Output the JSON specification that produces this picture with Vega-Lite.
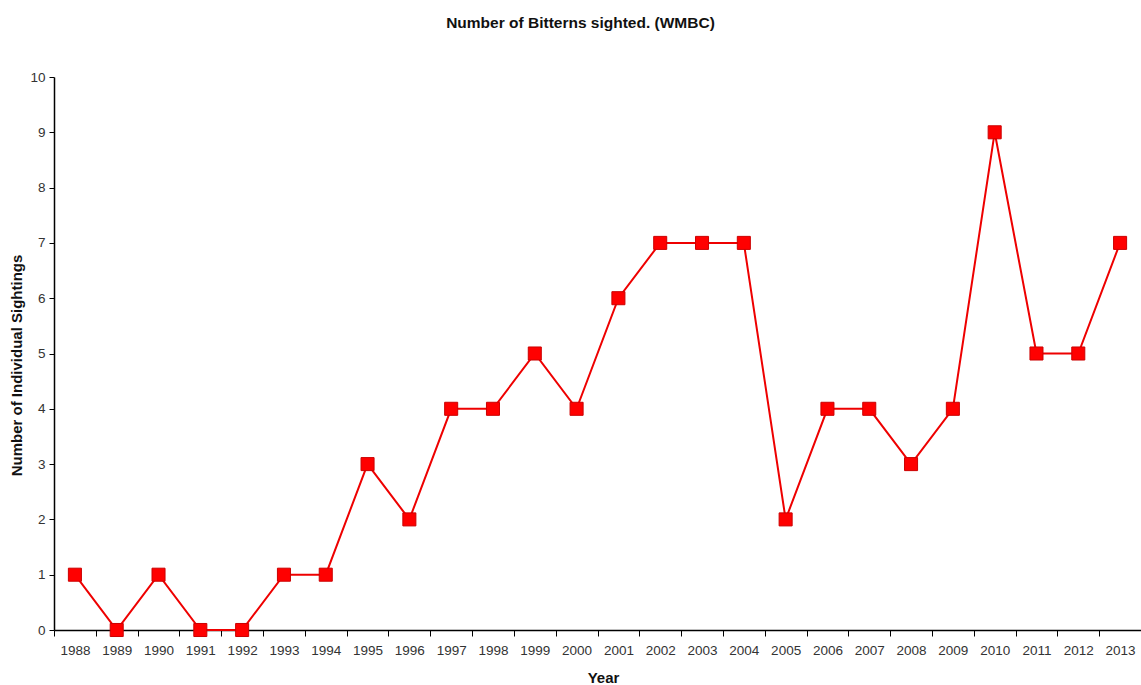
{
  "$schema": "https://vega.github.io/schema/vega-lite/v6.json",
  "autosize": {"type": "none"},
  "padding": {"left": 54, "top": 77, "right": 0, "bottom": 55},
  "width": 1087,
  "height": 553,
  "background": "white",
  "title": {
    "text": "Number of Bitterns  sighted. (WMBC)",
    "font": "Liberation Sans",
    "fontSize": 15.5,
    "fontWeight": "bold",
    "color": "#111111",
    "anchor": "middle",
    "dx": -17,
    "offset": 39
  },
  "data": {
    "values": [
      {"Year": "1988", "Sightings": 1},
      {"Year": "1989", "Sightings": 0},
      {"Year": "1990", "Sightings": 1},
      {"Year": "1991", "Sightings": 0},
      {"Year": "1992", "Sightings": 0},
      {"Year": "1993", "Sightings": 1},
      {"Year": "1994", "Sightings": 1},
      {"Year": "1995", "Sightings": 3},
      {"Year": "1996", "Sightings": 2},
      {"Year": "1997", "Sightings": 4},
      {"Year": "1998", "Sightings": 4},
      {"Year": "1999", "Sightings": 5},
      {"Year": "2000", "Sightings": 4},
      {"Year": "2001", "Sightings": 6},
      {"Year": "2002", "Sightings": 7},
      {"Year": "2003", "Sightings": 7},
      {"Year": "2004", "Sightings": 7},
      {"Year": "2005", "Sightings": 2},
      {"Year": "2006", "Sightings": 4},
      {"Year": "2007", "Sightings": 4},
      {"Year": "2008", "Sightings": 3},
      {"Year": "2009", "Sightings": 4},
      {"Year": "2010", "Sightings": 9},
      {"Year": "2011", "Sightings": 5},
      {"Year": "2012", "Sightings": 5},
      {"Year": "2013", "Sightings": 7}
    ]
  },
  "config": {
    "view": {"stroke": null},
    "axis": {
      "labelFont": "Liberation Sans",
      "labelFontSize": 13.5,
      "labelColor": "#333333",
      "titleFont": "Liberation Sans",
      "titleFontSize": 15,
      "titleFontWeight": "bold",
      "titleColor": "#111111",
      "domainColor": "#000000",
      "tickColor": "#000000",
      "grid": false
    }
  },
  "encoding": {
    "x": {
      "field": "Year",
      "type": "ordinal",
      "scale": {"type": "band", "paddingInner": 0, "paddingOuter": 0},
      "axis": {
        "title": "Year",
        "labelAngle": 0,
        "tickBand": "extent",
        "tickSize": 6,
        "labelPadding": 7,
        "titleX": 549,
        "titleY": 40,
        "titleBaseline": "top",
        "domainWidth": 1.5
      }
    },
    "y": {
      "field": "Sightings",
      "type": "quantitative",
      "scale": {"domain": [0, 10], "nice": false},
      "axis": {
        "title": "Number of Individual Sightings",
        "values": [0, 1, 2, 3, 4, 5, 6, 7, 8, 9, 10],
        "tickSize": 5,
        "labelPadding": 4,
        "titleX": -30,
        "titleY": 288,
        "domainWidth": 1.5
      }
    }
  },
  "layer": [
    {
      "mark": {"type": "line", "color": "#ee0000", "strokeWidth": 2}
    },
    {
      "mark": {"type": "point", "shape": "square", "filled": true, "size": 170, "color": "#ff0000", "opacity": 1, "stroke": "#cc0000", "strokeWidth": 1}
    }
  ]
}
